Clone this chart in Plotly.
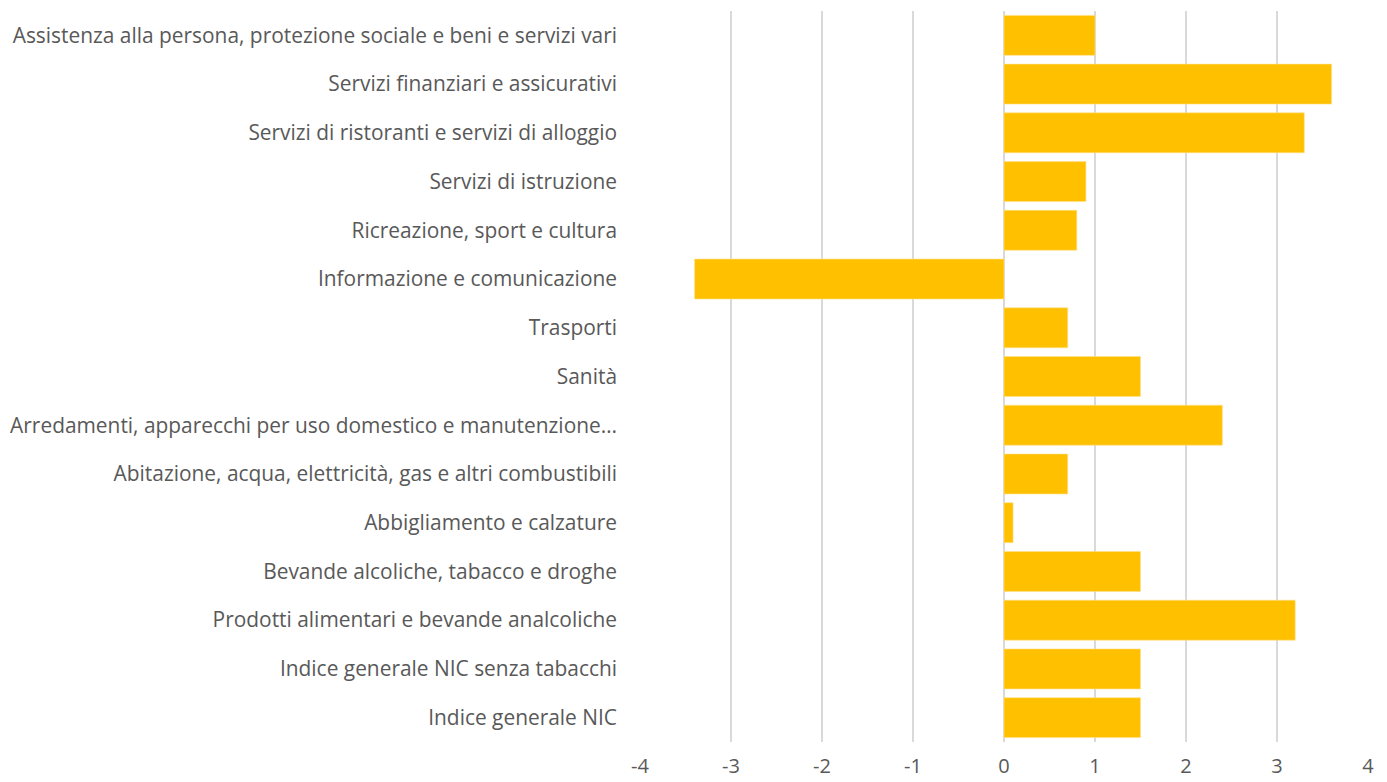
import plotly.graph_objects as go

categories = [
    "Indice generale NIC",
    "Indice generale NIC senza tabacchi",
    "Prodotti alimentari e bevande analcoliche",
    "Bevande alcoliche, tabacco e droghe",
    "Abbigliamento e calzature",
    "Abitazione, acqua, elettricità, gas e altri combustibili",
    "Arredamenti, apparecchi per uso domestico e manutenzione…",
    "Sanità",
    "Trasporti",
    "Informazione e comunicazione",
    "Ricreazione, sport e cultura",
    "Servizi di istruzione",
    "Servizi di ristoranti e servizi di alloggio",
    "Servizi finanziari e assicurativi",
    "Assistenza alla persona, protezione sociale e beni e servizi vari",
]
values = [1.5, 1.5, 3.2, 1.5, 0.1, 0.7, 2.4, 1.5, 0.7, -3.4, 0.8, 0.9, 3.3, 3.6, 1.0]
x_ticks = [-4, -3, -2, -1, 0, 1, 2, 3, 4]
x_tick_labels = ["-4", "-3", "-2", "-1", "0", "1", "2", "3", "4"]

fig = go.Figure(go.Bar(
    x=values, y=categories, orientation="h",
    marker=dict(color="#FFC000", line=dict(color="#FFE08A", width=0.6)),
))

fig.update_layout(
    width=1379, height=774,
    margin=dict(l=632, r=19, t=3, b=40),
    paper_bgcolor="white", plot_bgcolor="white",
    bargap=0.18,
    showlegend=False,
    font=dict(family="'Open Sans', sans-serif", size=20.9, color="#595959"),
)
fig.update_xaxes(
    range=[-4, 4], tickvals=x_ticks, ticktext=x_tick_labels,
    showgrid=True, gridcolor="#D9D9D9", gridwidth=1.5,
    zeroline=True, zerolinecolor="#D9D9D9", zerolinewidth=1.5,
    showline=False, ticks="", ticklabelstandoff=10, automargin=False,
    tickfont=dict(size=20),
)
fig.update_yaxes(
    categoryorder="array", categoryarray=categories, showgrid=False,
    ticks="", ticklabelstandoff=22, automargin=False,
)

fig.write_html("out.html")
